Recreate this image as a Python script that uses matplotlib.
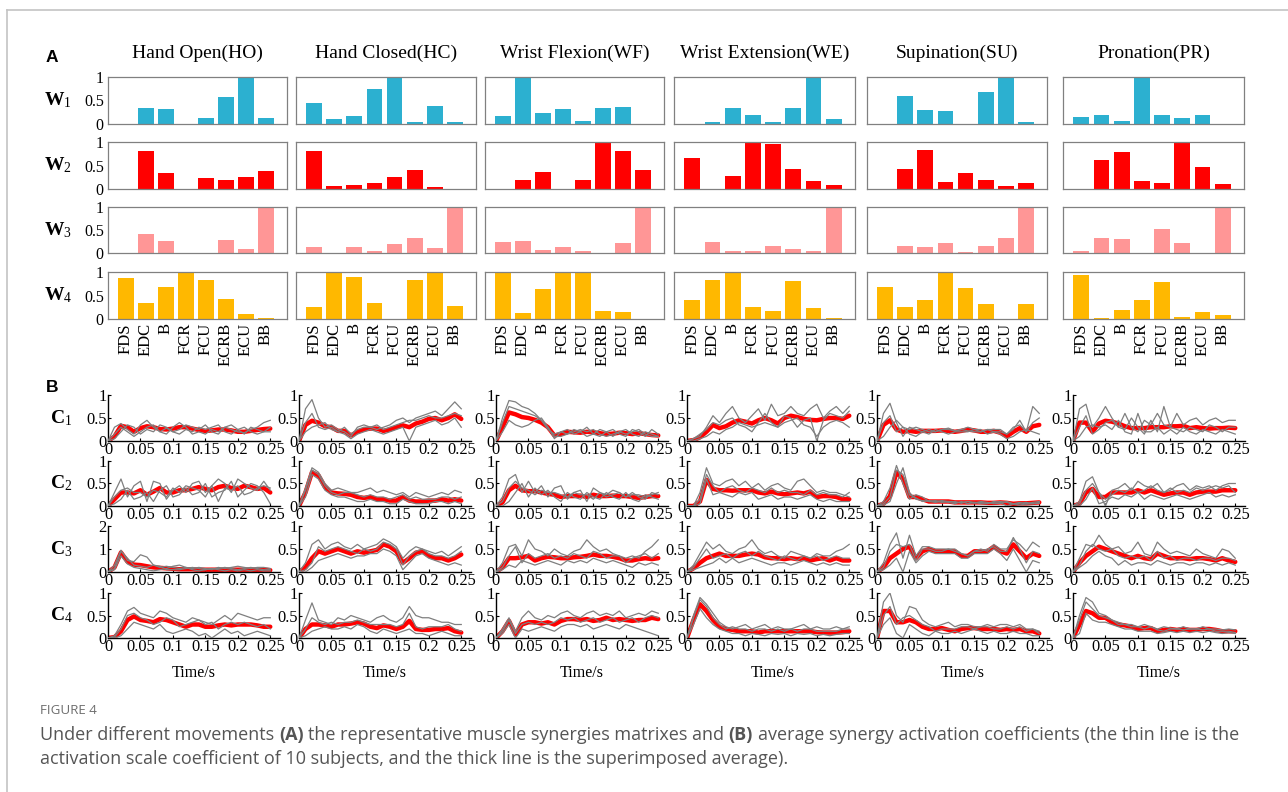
import numpy as np
import matplotlib
matplotlib.use("Agg")
import matplotlib.pyplot as plt
from matplotlib.lines import Line2D

plt.rcParams['font.family'] = ['Liberation Serif', 'DejaVu Serif']
plt.rcParams['mathtext.fontset'] = 'custom'
plt.rcParams['mathtext.rm'] = 'Liberation Serif'
plt.rcParams['mathtext.bf'] = 'Liberation Serif:bold'
plt.rcParams['mathtext.it'] = 'Liberation Serif:italic'

MOVES = ["Hand Open(HO)", "Hand Closed(HC)", "Wrist Flexion(WF)",
         "Wrist Extension(WE)", "Supination(SU)", "Pronation(PR)"]
MUSCLES = ["FDS", "EDC", "B", "FCR", "FCU", "ECRB", "ECU", "BB"]
W_COLORS = ["#2cb0d0", "#ff0000", "#ff9696", "#ffb800"]

# synergy weights (rows W1..W4, one value per muscle)
W_HO = [[.01, .34, .31, .01, .12, .58, 1.0, .12],
        [.01, .80, .33, 0, .24, .19, .25, .39],
        [0, .41, .26, .01, 0, .29, .08, 1.0],
        [.87, .34, .69, 1.0, .82, .43, .11, .03]]
W_HC = [[.44, .11, .16, .75, 1.0, .04, .39, .04],
        [.80, .07, .08, .12, .25, .41, .04, 0],
        [.14, .01, .12, .04, .20, .32, .11, 1.0],
        [.26, 1.0, .89, .34, .01, .82, 1.0, .28]]
W_WF = [[.18, 1.0, .24, .31, .06, .34, .36, 0],
        [0, .19, .36, .01, .19, 1.0, .80, .41],
        [.23, .26, .06, .12, .04, 0, .21, 1.0],
        [.98, .12, .63, .98, .99, .16, .14, .01]]
W_WE = [[0, .05, .33, .19, .04, .35, 1.0, .11],
        [.66, 0, .28, .98, .96, .42, .18, .09],
        [0, .23, .04, .05, .15, .09, .05, .99],
        [.41, .84, 1.0, .26, .16, .81, .24, .03]]
W_SU = [[0, .59, .30, .28, 0, .69, 1.0, .04],
        [.01, .42, .82, .15, .34, .20, .06, .12],
        [0, .16, .14, .21, .02, .15, .33, 1.0],
        [.69, .26, .41, 1.0, .65, .32, 0, .31]]
W_PR = [[.14, .19, .06, 1.0, .19, .12, .19, 0],
        [.01, .61, .79, .18, .13, 1.0, .46, .11],
        [.05, .33, .31, 0, .53, .22, 0, 1.0],
        [.94, .03, .19, .41, .79, .04, .15, .09]]

TIME = [0, .01, .02, .03, .04, .05, .06, .07, .08, .09, .10, .11, .12,
        .13, .14, .15, .16, .17, .18, .19, .20, .21, .22, .23, .24, .25]

# average activation coefficients (C1..C4)
AVG_HO = [
    [0, .10, .33, .30, .20, .28, .32, .30, .26, .25, .27, .30, .30, .27, .24, .22, .23, .25, .25, .23, .20, .20, .22, .24, .26, .27],
    [0, .15, .30, .30, .28, .35, .25, .32, .40, .30, .30, .35, .35, .38, .42, .38, .35, .42, .45, .40, .38, .45, .42, .38, .40, .30],
    [0, .20, .85, .45, .32, .30, .25, .20, .18, .16, .14, .12, .12, .12, .10, .10, .10, .10, .10, .10, .10, .10, .10, .10, .10, .08],
    [0, .02, .15, .40, .48, .40, .38, .35, .42, .40, .35, .30, .25, .30, .30, .25, .25, .28, .30, .28, .30, .30, .30, .28, .25, .25]]
AVG_HC = [
    [0, .35, .44, .40, .32, .30, .22, .22, .12, .20, .25, .27, .27, .22, .25, .30, .34, .30, .38, .42, .48, .50, .45, .50, .58, .48],
    [0, .30, .75, .68, .42, .30, .28, .27, .25, .20, .18, .20, .15, .15, .12, .12, .20, .12, .10, .10, .12, .12, .15, .12, .15, .12],
    [0, .10, .30, .45, .40, .45, .50, .45, .40, .45, .42, .45, .48, .60, .55, .45, .20, .30, .42, .45, .35, .30, .30, .25, .30, .38],
    [0, .20, .30, .30, .28, .25, .30, .30, .32, .35, .32, .25, .22, .28, .25, .20, .25, .38, .20, .18, .18, .20, .20, .22, .15, .12]]
AVG_WF = [
    [0, .30, .62, .58, .52, .50, .46, .40, .30, .12, .15, .20, .19, .18, .20, .19, .17, .15, .16, .18, .17, .15, .17, .15, .13, .12],
    [0, .08, .35, .45, .35, .33, .33, .30, .27, .25, .20, .22, .22, .23, .20, .25, .22, .22, .23, .22, .22, .20, .18, .20, .22, .22],
    [0, .10, .30, .30, .32, .35, .25, .30, .33, .32, .30, .30, .32, .33, .35, .38, .35, .35, .33, .30, .25, .25, .28, .30, .28, .30],
    [0, .15, .38, .08, .30, .35, .35, .32, .35, .30, .38, .42, .42, .40, .42, .38, .40, .45, .40, .42, .40, .38, .40, .40, .45, .42]]
AVG_WE = [
    [0, .02, .08, .20, .35, .28, .32, .40, .45, .42, .38, .45, .50, .45, .38, .50, .55, .52, .48, .46, .45, .48, .50, .50, .48, .55],
    [0, 0, .10, .58, .38, .35, .35, .34, .35, .35, .35, .30, .28, .32, .28, .26, .28, .30, .28, .32, .20, .22, .22, .20, .15, .15],
    [0, .08, .20, .30, .35, .40, .35, .35, .35, .38, .40, .38, .32, .30, .30, .28, .30, .28, .30, .25, .28, .30, .25, .30, .25, .25],
    [0, .40, .75, .60, .40, .25, .20, .18, .15, .15, .15, .12, .15, .15, .15, .15, .15, .15, .15, .15, .13, .12, .12, .12, .13, .15]]
AVG_SU = [
    [0, .35, .45, .25, .20, .22, .20, .22, .22, .22, .23, .22, .20, .22, .25, .23, .20, .20, .22, .18, .10, .20, .28, .20, .32, .35],
    [0, .05, .22, .75, .60, .20, .20, .15, .10, .10, .10, .10, .08, .08, .08, .08, .08, .07, .07, .08, .07, .05, .06, .06, .07, .08],
    [0, .10, .30, .40, .50, .55, .30, .45, .50, .45, .45, .45, .45, .35, .35, .45, .45, .45, .55, .45, .40, .60, .45, .30, .40, .35],
    [0, .60, .60, .35, .35, .40, .35, .25, .20, .20, .22, .18, .15, .20, .22, .22, .20, .20, .20, .18, .20, .18, .20, .15, .15, .10]]
AVG_PR = [
    [0, .40, .40, .20, .38, .44, .42, .38, .32, .28, .28, .28, .30, .30, .30, .32, .32, .33, .28, .30, .28, .27, .28, .28, .29, .28],
    [0, .05, .30, .38, .20, .20, .30, .30, .30, .30, .35, .30, .35, .30, .25, .28, .30, .30, .25, .30, .32, .32, .32, .35, .35, .35],
    [0, .20, .35, .45, .55, .50, .45, .40, .35, .30, .35, .30, .28, .40, .35, .30, .30, .30, .28, .30, .30, .28, .25, .30, .25, .22],
    [0, .30, .60, .55, .45, .45, .35, .30, .28, .25, .20, .22, .22, .15, .18, .20, .18, .20, .18, .18, .20, .20, .18, .15, .15, .15]]

# a few individual subjects per panel (thin grey lines)
SUBJ_HO = [
    [[0, .30, .38, .25, .15, .35, .45, .30, .20, .28, .20, .25, .35, .30, .25, .35, .20, .15, .30, .25, .20, .18, .25, .30, .40, .45],
     [0, .05, .20, .35, .30, .15, .25, .20, .35, .30, .20, .15, .25, .20, .30, .25, .30, .35, .20, .15, .25, .30, .20, .15, .20, .20],
     [0, .15, .30, .20, .10, .20, .30, .35, .20, .15, .30, .40, .30, .15, .20, .15, .25, .20, .30, .35, .25, .15, .30, .25, .20, .30]],
    [[0, .30, .60, .20, .45, .55, .10, .55, .50, .15, .35, .45, .30, .50, .55, .30, .45, .60, .50, .30, .60, .50, .40, .35, .55, .35],
     [0, .05, .15, .35, .15, .20, .30, .10, .35, .45, .20, .25, .40, .25, .30, .50, .20, .30, .35, .55, .20, .35, .50, .45, .30, .05],
     [0, .20, .35, .40, .30, .30, .20, .35, .30, .20, .40, .30, .45, .40, .35, .20, .45, .10, .40, .35, .45, .25, .30, .40, .45, .40]],
    [[0, .30, .95, .50, .45, .75, .65, .30, .20, .25, .20, .15, .20, .15, .20, .15, .10, .20, .15, .20, .25, .20, .15, .20, .20, .15],
     [0, .10, .70, .35, .20, .15, .10, .05, .10, .15, .25, .30, .20, .10, .05, .10, .15, .10, .05, .10, .05, .10, .05, .10, .05, .05],
     [0, .15, .90, .60, .30, .25, .20, .30, .25, .10, .10, .10, .15, .20, .15, .10, .15, .15, .20, .15, .10, .15, .20, .15, .10, .10]],
    [[0, .05, .30, .60, .68, .55, .50, .45, .60, .55, .45, .40, .35, .45, .40, .35, .30, .40, .50, .40, .55, .50, .45, .40, .45, .45],
     [0, 0, .05, .20, .35, .30, .25, .20, .30, .15, .10, .15, .20, .15, .05, .10, 0, .10, .20, .10, .15, .05, .10, .15, .10, .05],
     [0, .02, .20, .50, .55, .45, .40, .30, .35, .45, .40, .25, .30, .35, .40, .30, .35, .20, .30, .35, .30, .35, .30, .25, .30, .20]]]
SUBJ_HC = [
    [[0, .70, .90, .50, .30, .35, .25, .20, .10, .30, .35, .30, .25, .30, .35, .45, .50, .40, .50, .55, .60, .65, .55, .70, .85, .70],
     [0, .20, .30, .35, .40, .25, .20, .15, .05, .15, .20, .25, .20, .15, .20, .25, .30, 0, .30, .35, .40, .45, .35, .40, .50, .30],
     [0, .40, .60, .30, .25, .30, .20, .30, .15, .25, .30, .30, .35, .25, .30, .35, .40, .45, .45, .50, .55, .50, .50, .55, .60, .55]],
    [[0, .40, .85, .75, .50, .35, .40, .35, .30, .30, .35, .40, .30, .35, .30, .25, .30, .20, .30, .25, .20, .25, .30, .25, .35, .30],
     [0, .20, .70, .60, .35, .25, .20, .20, .15, .10, .10, .15, .10, .10, .05, .05, .15, .10, .05, .05, .05, .10, .10, .05, .10, .05],
     [0, .35, .80, .70, .45, .30, .25, .30, .30, .25, .20, .25, .20, .20, .15, .20, .25, .15, .20, .15, .15, .15, .20, .20, .15, .20]],
    [[0, .20, .60, .70, .50, .60, .65, .55, .50, .60, .50, .55, .60, .72, .65, .55, .30, .45, .55, .50, .45, .40, .45, .35, .45, .55],
     [0, 0, .10, .25, .30, .35, .40, .35, .30, .35, .35, .40, .40, .50, .45, .35, .05, .20, .35, .40, .30, .25, .20, .15, .20, .15],
     [0, .05, .20, .55, .45, .50, .55, .50, .45, .40, .50, .45, .50, .65, .60, .50, .15, .35, .45, .50, .40, .35, .35, .30, .35, .45]],
    [[0, .40, .78, .40, .35, .30, .45, .40, .50, .45, .40, .35, .45, .50, .40, .35, .45, .70, .50, .45, .45, .40, .35, .35, .30, .30],
     [0, .05, .15, .20, .25, .20, .20, .25, .20, .30, .25, .15, .10, .20, .15, .10, .15, .20, .10, .10, .05, .10, .15, .10, .05, .05],
     [0, .20, .45, .35, .30, .35, .30, .35, .35, .40, .35, .30, .30, .30, .30, .25, .30, .55, .25, .20, .25, .25, .25, .30, .20, .15]]]
SUBJ_WF = [
    [[0, .50, .88, .85, .75, .70, .60, .45, .30, .05, .20, .25, .15, .20, .30, .15, .10, .20, .25, .15, .10, .25, .20, .10, .25, .15],
     [0, .20, .45, .35, .30, .35, .45, .50, .30, .10, .10, .15, .25, .20, .10, .15, .25, .20, .10, .20, .25, .15, .10, .20, .15, .10],
     [0, .40, .75, .70, .65, .60, .55, .45, .25, .15, .20, .15, .20, .25, .20, .25, .15, .10, .15, .20, .15, .20, .25, .15, .10, .10]],
    [[0, .20, .60, .70, .30, .55, .30, .45, .20, .40, .45, .15, .30, .35, .10, .40, .30, .25, .35, .30, .20, .30, .20, .15, .30, .25],
     [0, 0, .10, .30, .50, .20, .40, .25, .35, .20, .10, .30, .20, .15, .30, .20, .15, .30, .20, .15, .30, .15, .10, .25, .20, .15],
     [0, .10, .40, .55, .40, .35, .25, .35, .30, .30, .25, .20, .30, .25, .25, .15, .30, .20, .25, .30, .20, .25, .25, .20, .25, .30]],
    [[0, .20, .55, .60, .35, .70, .50, .45, .35, .50, .40, .35, .45, .50, .70, .55, .45, .50, .40, .35, .30, .35, .30, .45, .55, .70],
     [0, .05, .15, .10, .25, .20, .15, .20, .25, .20, .15, .25, .20, .25, .20, .30, .25, .20, .25, .20, .15, .10, .20, .15, .20, .15],
     [0, .10, .35, .55, .20, .40, .30, .35, .40, .30, .35, .30, .40, .35, .30, .45, .40, .30, .35, .35, .20, .30, .35, .40, .30, .40]],
    [[0, .20, .45, .15, .45, .60, .45, .40, .50, .45, .55, .60, .50, .45, .55, .60, .50, .55, .50, .60, .45, .50, .55, .50, .60, .55],
     [0, .10, .30, 0, .20, .15, .20, .25, .20, .15, .25, .30, .30, .25, .30, .20, .25, .30, .25, .20, .30, .25, .20, .15, .10, .05],
     [0, .15, .40, .10, .30, .35, .30, .35, .30, .35, .45, .40, .45, .35, .40, .45, .35, .40, .45, .35, .40, .45, .35, .45, .50, .45]]]
SUBJ_WE = [
    [[0, .05, .10, .30, .55, .40, .60, .75, .50, .40, .55, .70, .45, .80, .55, .60, .75, .60, .55, .70, .80, .50, .65, .75, .60, .75],
     [0, 0, .05, .10, .20, .15, .25, .30, .40, .35, .30, .35, .40, .35, .30, .40, .45, .50, .35, .30, .10, .30, .40, .45, .40, .30],
     [0, .05, .15, .25, .40, .35, .45, .50, .35, .30, .20, .40, .60, .40, .30, .55, .50, .30, .45, .50, 0, .45, .60, .55, .50, .65]],
    [[0, 0, .30, .85, .50, .45, .55, .60, .45, .55, .40, .50, .35, .45, .50, .40, .35, .55, .60, .45, .30, .35, .30, .30, .25, .20],
     [0, 0, .05, .60, .25, .30, .25, .20, .30, .25, .30, .15, .20, .25, .15, .20, .20, .15, .20, .25, .15, .10, .15, .10, .10, .10],
     [0, 0, .15, .70, .45, .30, .40, .45, .35, .30, .40, .35, .30, .40, .30, .35, .30, .30, .25, .35, .25, .30, .25, .25, .20, .30]],
    [[0, .15, .40, .65, .50, .60, .45, .40, .50, .55, .70, .50, .40, .45, .35, .30, .45, .40, .35, .30, .40, .35, .35, .45, .50, .60],
     [0, .05, .10, .15, .20, .30, .20, .30, .20, .25, .30, .25, .20, .15, .20, .20, .15, .20, .25, .20, .15, .20, .15, .20, .15, .15],
     [0, .10, .30, .50, .30, .35, .40, .30, .40, .45, .35, .45, .35, .30, .25, .35, .30, .25, .35, .30, .35, .25, .30, .35, .30, .30]],
    [[0, .50, .90, .75, .55, .35, .25, .20, .25, .30, .20, .25, .30, .20, .25, .20, .20, .25, .30, .20, .25, .20, .20, .25, .20, .25],
     [0, .30, .65, .45, .30, .20, .15, .10, .10, .05, .10, .08, .05, .10, .08, .10, .05, .10, .08, .10, .05, .08, .05, .08, .10, .10],
     [0, .45, .85, .70, .45, .30, .20, .25, .20, .20, .15, .20, .20, .15, .20, .15, .20, .15, .20, .20, .15, .15, .15, .15, .20, .20]]]
SUBJ_SU = [
    [[0, .60, .82, .40, .10, .30, .25, .20, .25, .20, .25, .28, .22, .25, .30, .25, .20, .25, .20, .20, .15, .25, .45, .20, .75, .60],
     [0, .10, .30, .45, .30, .15, .10, .20, .15, .25, .20, .15, .20, .20, .20, .25, .25, .15, .20, .15, .05, .10, .20, .25, .20, .15],
     [0, .40, .55, .20, .30, .25, .30, .25, .20, .20, .25, .25, .22, .25, .22, .20, .20, .25, .25, .25, .15, .30, .35, .20, .40, .50]],
    [[0, .10, .40, .90, .50, .15, .25, .20, .10, .08, .10, .08, .05, .10, .05, .08, .05, .05, .10, .08, 0, .05, .02, .05, .08, .10],
     [0, .02, .10, .50, .85, .30, .15, .12, .10, .12, .08, .10, .10, .06, .10, .06, .10, .08, .05, .06, .10, .05, .08, .04, .05, .06],
     [0, .05, .20, .80, .70, .25, .18, .10, .12, .10, .12, .10, .08, .08, .10, .08, .08, .06, .08, .10, .08, .04, .06, .08, .05, .08]],
    [[0, .20, .60, .85, .30, .80, .35, .55, .55, .50, .50, .50, .50, .40, .35, .45, .50, .45, .60, .50, .50, .70, .60, .45, .65, .55],
     [0, .05, .15, .30, 0, .45, .20, .35, .45, .40, .40, .40, .40, .30, .30, .40, .40, .40, .50, .40, .25, .50, .25, 0, .25, .20],
     [0, .10, .45, .60, .55, .60, .25, .50, .50, .45, .45, .50, .45, .40, .35, .45, .45, .50, .55, .45, .45, .75, .50, .20, .45, .40]],
    [[0, .80, 1.0, .50, .35, .70, .65, .40, .30, .25, .30, .35, .25, .30, .30, .25, .25, .30, .25, .30, .30, .25, .30, .20, .20, .15],
     [0, .30, .45, .10, 0, .30, .20, .10, .05, .15, .10, .10, .15, .10, .15, .20, .15, .10, .15, .10, .10, .15, .10, .10, .05, .05],
     [0, .50, .70, .30, .45, .50, .40, .30, .25, .15, .20, .20, .20, .25, .25, .20, .25, .25, .20, .20, .25, .20, .25, .15, .20, .10]]]
SUBJ_PR = [
    [[0, .70, .80, .30, .50, .75, .50, .30, .60, .30, .20, .45, .35, .60, .35, .30, .60, .35, .45, .50, .35, .45, .50, .40, .45, .45],
     [0, .10, .30, .35, .30, .35, .25, .45, .20, .15, .60, .20, .20, .30, .15, .25, .15, .30, .20, .15, .25, .20, .15, .25, .20, .15],
     [0, .30, .55, .15, .25, .40, .45, .30, .25, .50, .30, .15, .45, .20, .75, .30, .25, .20, .30, .25, .20, .35, .30, .20, .30, .30]],
    [[0, .10, .55, .65, .30, 0, .35, .40, .50, .35, .55, .45, .40, .50, .30, .35, .45, .50, .35, .45, .40, .45, .35, .45, .50, .50],
     [0, 0, .15, .40, .05, .10, .20, .15, .25, .20, .30, .15, .25, .20, .15, .20, .25, .20, .15, .20, .25, .30, .20, .25, .20, .25],
     [0, .05, .35, .50, .30, .15, .25, .35, .30, .40, .30, .35, .45, .35, .30, .40, .30, .35, .30, .40, .35, .40, .45, .40, .45, .30]],
    [[0, .30, .60, .55, .80, .60, .50, .55, .40, .45, .65, .40, .35, .65, .50, .40, .45, .40, .35, .50, .40, .35, .30, .50, .45, .30],
     [0, .10, .20, .35, .45, .35, .30, .15, .25, .15, .20, .20, .15, .25, .20, .15, .20, .20, .15, .20, .20, .15, .20, .15, .20, .15],
     [0, .15, .45, .60, .50, .45, .50, .35, .30, .35, .30, .35, .25, .45, .30, .35, .25, .30, .30, .25, .30, .30, .25, .30, .30, .25]],
    [[0, .50, .90, .80, .55, .50, .40, .35, .30, .30, .25, .30, .25, .20, .25, .22, .20, .25, .20, .20, .25, .20, .20, .18, .20, .18],
     [0, .10, .55, .40, .35, .35, .30, .25, .20, .20, .15, .15, .15, .10, .12, .15, .12, .15, .12, .15, .12, .15, .12, .10, .12, .10],
     [0, .40, .80, .65, .50, .45, .40, .30, .30, .25, .25, .20, .25, .18, .15, .20, .20, .18, .20, .20, .18, .20, .15, .15, .15, .12]]]

W_ALL = [W_HO, W_HC, W_WF, W_WE, W_SU, W_PR]
AVG_ALL = [AVG_HO, AVG_HC, AVG_WF, AVG_WE, AVG_SU, AVG_PR]
SUBJ_ALL = [SUBJ_HO, SUBJ_HC, SUBJ_WF, SUBJ_WE, SUBJ_SU, SUBJ_PR]

# layout in pixels of the 1288x792 canvas
FW, FH = 1288, 792
BAR_X = [(108, 287), (296, 476), (485, 664), (674, 855), (867, 1047), (1063, 1244)]
BAR_Y = [(77, 124), (142, 189), (207, 253), (272, 319)]
LINE_X = [108, 299, 496, 687, 877, 1073]
LINE_W = 172
LINE_Y = [(395, 441), (461, 506), (526, 572), (593, 638)]


def rect(x0, x1, y0, y1):
    return [x0 / FW, 1 - y1 / FH, (x1 - x0) / FW, (y1 - y0) / FH]


def fx(x):
    return x / FW


def fy(y):
    return 1 - y / FH


fig = plt.figure(figsize=(FW / 100, FH / 100), dpi=100)

# light frame (top and left edge)
fig.add_artist(Line2D([fx(7), 1], [fy(10), fy(10)], color='#c4c4c4', lw=1.2))
fig.add_artist(Line2D([fx(7), fx(7)], [fy(10), 0], color='#c4c4c4', lw=1.2))

# ---- panel A: synergy weights
for j in range(6):
    for i in range(4):
        ax = fig.add_axes(rect(*BAR_X[j], *BAR_Y[i]))
        ax.bar(np.arange(1, 9), W_ALL[j][i], width=0.78, color=W_COLORS[i])
        ax.set_xlim(0.1, 9.05)
        ax.set_ylim(0, 1)
        for s in ax.spines.values():
            s.set_color('#808080')
            s.set_linewidth(0.9)
        ax.tick_params(length=0, labelsize=11.5, pad=3)
        ax.set_yticks([0, 0.5, 1])
        if j == 0:
            ax.set_yticklabels(['0', '0.5', '1'])
        else:
            ax.set_yticklabels([])
        if i == 3:
            ax.set_xticks(np.arange(1, 9))
            ax.set_xticklabels(MUSCLES, rotation=90, fontsize=12)
        else:
            ax.set_xticks([])
        if i == 0:
            fig.text(fx((BAR_X[j][0] + BAR_X[j][1]) / 2), fy(53), MOVES[j],
                     fontsize=14, ha='center', va='center')

for i in range(4):
    fig.text(fx(44), fy(sum(BAR_Y[i]) / 2), r'$\mathbf{W}_{\mathrm{%d}}$' % (i + 1),
             fontsize=14, ha='left', va='center')

# ---- panel B: activation coefficients
for j in range(6):
    for i in range(4):
        x0 = LINE_X[j]
        ax = fig.add_axes(rect(x0, x0 + LINE_W, *LINE_Y[i]))
        ax.plot(TIME, AVG_ALL[j][i], color='#ff0000', lw=3.2, zorder=2,
                solid_capstyle='round')
        for g in SUBJ_ALL[j][i]:
            ax.plot(TIME, g, color='#7f7f7f', lw=0.9, zorder=3)
        ax.set_xlim(0, 0.265)
        if j == 0 and i == 2:
            ax.set_ylim(0, 2)
            ax.set_yticks([0, 1, 2])
            ax.set_yticklabels(['0', '1', '2'])
        else:
            ax.set_ylim(0, 1)
            ax.set_yticks([0, 0.5, 1])
            ax.set_yticklabels(['0', '0.5', '1'])
        ax.set_xticks([0, 0.05, 0.1, 0.15, 0.2, 0.25])
        ax.set_xticklabels(['0', '0.05', '0.1', '0.15', '0.2', '0.25'])
        ax.spines['top'].set_visible(False)
        ax.spines['right'].set_visible(False)
        ax.spines['left'].set_linewidth(1.0)
        ax.spines['bottom'].set_linewidth(1.0)
        ax.tick_params(direction='in', length=2, labelsize=11.8, pad=1)
        if i == 3:
            fig.text(fx(x0 + LINE_W / 2), fy(673), 'Time/s', fontsize=11.5,
                     ha='center', va='center')

for i in range(4):
    fig.text(fx(50), fy(sum(LINE_Y[i]) / 2), r'$\mathbf{C}_{\mathrm{%d}}$' % (i + 1),
             fontsize=14, ha='left', va='center')

# panel letters
fig.text(fx(46), fy(57), 'A', fontsize=12.5, fontweight='bold',
         family='Liberation Sans', ha='left', va='center')
fig.text(fx(46), fy(388), 'B', fontsize=12.5, fontweight='bold',
         family='Liberation Sans', ha='left', va='center')

# ---- caption
fig.text(fx(40), fy(711), 'FIGURE 4', fontsize=9.6, family='Open Sans',
         color='#6e6e6e', ha='left', va='center')

renderer = fig.canvas.get_renderer()


def text_width(s, size, weight):
    t = fig.text(0, 0, s, fontsize=size, family='Open Sans', weight=weight)
    w = t.get_window_extent(renderer=renderer).width
    t.remove()
    return w


def rich_line(x, y, parts, size=13.0, color='#555555'):
    space = text_width('a a', size, 'normal') - text_width('aa', size, 'normal')
    for s, bold in parts:
        weight = 'bold' if bold else 'normal'
        word = s.strip()
        if s.startswith(' '):
            x += space
        t = fig.text(fx(x), fy(y), word, fontsize=size, family='Open Sans',
                     weight=weight, color=color, ha='left', va='center')
        x += t.get_window_extent(renderer=renderer).width
        if s.endswith(' '):
            x += space


rich_line(40, 735, [("Under different movements ", False), ("(A)", True),
                    (" the representative muscle synergies matrixes and ", False),
                    ("(B)", True),
                    (" average synergy activation coefficients (the thin line is the", False)])
rich_line(40, 759, [("activation scale coefficient of 10 subjects, and the thick line is the superimposed average).", False)])

fig.savefig('out.png', dpi=100)
